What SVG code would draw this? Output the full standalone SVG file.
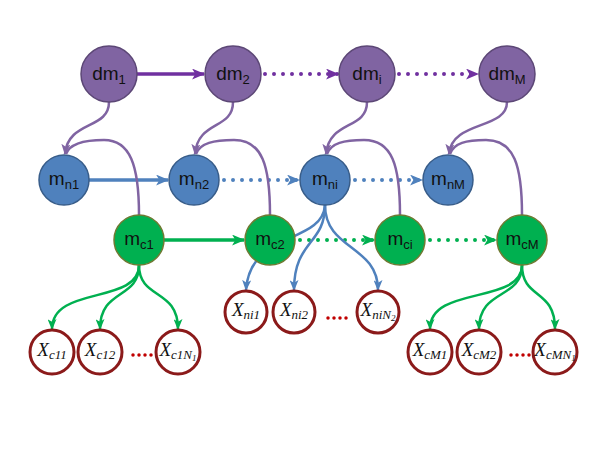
<svg xmlns="http://www.w3.org/2000/svg" width="600" height="450" viewBox="0 0 600 450">
<style>
.dm{fill:#8064A2;stroke:#5C4776;stroke-width:1.5}
.mn{fill:#4F81BD;stroke:#385D8A;stroke-width:1.5}
.mc{fill:#00B050;stroke:#6E7B33;stroke-width:1.5}
.x{fill:#fff;stroke:#8B1A1A;stroke-width:3}
.lbl{font-family:"Liberation Sans",Arial,sans-serif;font-size:19px;fill:#111;text-anchor:middle}
.sub{font-size:13px}
.xl{font-family:"Liberation Serif","Times New Roman",serif;font-style:italic;font-size:19px;fill:#111;text-anchor:middle}
.xs{font-size:13px}
.xss{font-size:9px}
.c{fill:none}
.pS{stroke:#7030A0;stroke-width:3.5}
.pD{stroke:#7030A0;stroke-width:4;stroke-dasharray:0 9;stroke-linecap:round}
.pc{stroke:#8064A2;stroke-width:2.5}
.bS{stroke:#4F81BD;stroke-width:3.5}
.bD{stroke:#4F81BD;stroke-width:4;stroke-dasharray:0 9;stroke-linecap:round}
.bc{stroke:#4F81BD;stroke-width:2.5}
.gS{stroke:#00B050;stroke-width:3.5}
.gD{stroke:#00B050;stroke-width:4;stroke-dasharray:0 9;stroke-linecap:round}
.gc{stroke:#00B050;stroke-width:2.5}
.rd{stroke:#C00000;stroke-width:3.5;stroke-dasharray:0 6;stroke-linecap:round;fill:none}
</style>
<defs>
<marker id="ap" viewBox="0 0 12 10" refX="11" refY="5" markerWidth="13" markerHeight="11" markerUnits="userSpaceOnUse" orient="auto"><path d="M0,0 L12,5 L0,10 L3,5 z" fill="#7030A0"/></marker>
<marker id="apc" viewBox="0 0 12 10" refX="11" refY="5" markerWidth="11" markerHeight="9" markerUnits="userSpaceOnUse" orient="auto"><path d="M0,0 L12,5 L0,10 L3,5 z" fill="#8064A2"/></marker>
<marker id="ab" viewBox="0 0 12 10" refX="11" refY="5" markerWidth="13" markerHeight="11" markerUnits="userSpaceOnUse" orient="auto"><path d="M0,0 L12,5 L0,10 L3,5 z" fill="#4F81BD"/></marker>
<marker id="abc" viewBox="0 0 12 10" refX="11" refY="5" markerWidth="11" markerHeight="9" markerUnits="userSpaceOnUse" orient="auto"><path d="M0,0 L12,5 L0,10 L3,5 z" fill="#4F81BD"/></marker>
<marker id="ag" viewBox="0 0 12 10" refX="11" refY="5" markerWidth="13" markerHeight="11" markerUnits="userSpaceOnUse" orient="auto"><path d="M0,0 L12,5 L0,10 L3,5 z" fill="#00B050"/></marker>
<marker id="agc" viewBox="0 0 12 10" refX="11" refY="5" markerWidth="11" markerHeight="9" markerUnits="userSpaceOnUse" orient="auto"><path d="M0,0 L12,5 L0,10 L3,5 z" fill="#00B050"/></marker>
</defs>
<rect width="600" height="450" fill="#fff"/>
<g id="connectors" class="c">
  <path class="c pS" d="M137,74 L204,74" marker-end="url(#ap)"/>
  <path class="c pD" d="M265,74 L338,74" marker-end="url(#ap)"/>
  <path class="c pD" d="M399,74 L478,74" marker-end="url(#ap)"/>
  <path class="c bS" d="M89,180 L168,180" marker-end="url(#ab)"/>
  <path class="c bD" d="M224,180 L299,180" marker-end="url(#ab)"/>
  <path class="c bD" d="M355,180 L422,180" marker-end="url(#ab)"/>
  <path class="c gS" d="M164,240 L244,240" marker-end="url(#ag)"/>
  <path class="c gD" d="M300,240 L374,240" marker-end="url(#ag)"/>
  <path class="c gD" d="M430,240 L496,240" marker-end="url(#ag)"/>
  <path class="c pc" d="M109,102 C109,130 68,120 65,154" marker-end="url(#apc)"/>
  <path class="c pc" d="M233,102 C233,130 198,120 195,154" marker-end="url(#apc)"/>
  <path class="c pc" d="M367,102 C367,130 329,120 326,154" marker-end="url(#apc)"/>
  <path class="c pc" d="M507,102 C507,130 452,120 449,154" marker-end="url(#apc)"/>
  <path class="c pc" d="M139,215 C139,165 130,140 104,140 C86,140 70,143 66,154"/>
  <path class="c pc" d="M270,215 C270,165 262,140 234,140 C214,140 200,143 196,154"/>
  <path class="c pc" d="M400,215 C400,165 392,140 364,140 C344,140 331,143 327,154"/>
  <path class="c pc" d="M522,215 C522,165 514,140 486,140 C466,140 454,143 450,154"/>
  <path class="c gc" d="M139,265 C139,305 52,285 52,329" marker-end="url(#agc)"/>
  <path class="c gc" d="M139,265 C139,300 100,288 100,329" marker-end="url(#agc)"/>
  <path class="c gc" d="M139,265 C139,300 178,288 178,329" marker-end="url(#agc)"/>
  <path class="c bc" d="M325,205 C322,245 250,230 246,290" marker-end="url(#abc)"/>
  <path class="c bc" d="M325,205 C325,245 294,240 294,290" marker-end="url(#abc)"/>
  <path class="c bc" d="M325,205 C325,250 378,245 378,290" marker-end="url(#abc)"/>
  <path class="c gc" d="M522,265 C522,305 430,285 430,329" marker-end="url(#agc)"/>
  <path class="c gc" d="M522,265 C522,300 479,288 479,329" marker-end="url(#agc)"/>
  <path class="c gc" d="M522,265 C522,300 555,288 555,329" marker-end="url(#agc)"/>
</g>
<g id="dm1"><circle class="dm" cx="109" cy="74" r="28"/><text class="lbl" x="109" y="80">dm<tspan class="sub" dy="4">1</tspan></text></g>
<g id="dm2"><circle class="dm" cx="233" cy="74" r="28"/><text class="lbl" x="233" y="80">dm<tspan class="sub" dy="4">2</tspan></text></g>
<g id="dmi"><circle class="dm" cx="367" cy="74" r="28"/><text class="lbl" x="367" y="80">dm<tspan class="sub" dy="4">i</tspan></text></g>
<g id="dmM"><circle class="dm" cx="507" cy="74" r="28"/><text class="lbl" x="507" y="80">dm<tspan class="sub" dy="4">M</tspan></text></g>
<g id="mn1"><circle class="mn" cx="64" cy="180" r="25"/><text class="lbl" x="64" y="185">m<tspan class="sub" dy="4">n1</tspan></text></g>
<g id="mn2"><circle class="mn" cx="194" cy="180" r="25"/><text class="lbl" x="194" y="185">m<tspan class="sub" dy="4">n2</tspan></text></g>
<g id="mni"><circle class="mn" cx="325" cy="180" r="25"/><text class="lbl" x="325" y="185">m<tspan class="sub" dy="4">ni</tspan></text></g>
<g id="mnM"><circle class="mn" cx="448" cy="180" r="25"/><text class="lbl" x="448" y="185">m<tspan class="sub" dy="4">nM</tspan></text></g>
<g id="mc1"><circle class="mc" cx="139" cy="240" r="25"/><text class="lbl" x="139" y="245">m<tspan class="sub" dy="4">c1</tspan></text></g>
<g id="mc2"><circle class="mc" cx="270" cy="240" r="25"/><text class="lbl" x="270" y="245">m<tspan class="sub" dy="4">c2</tspan></text></g>
<g id="mci"><circle class="mc" cx="400" cy="240" r="25"/><text class="lbl" x="400" y="245">m<tspan class="sub" dy="4">ci</tspan></text></g>
<g id="mcM"><circle class="mc" cx="522" cy="240" r="25"/><text class="lbl" x="522" y="245">m<tspan class="sub" dy="4">cM</tspan></text></g>
<g id="Xc11"><circle class="x" cx="52" cy="352" r="22"/><text class="xl" x="52" y="356">X<tspan class="xs" dy="3">c11</tspan></text></g>
<g id="Xc12"><circle class="x" cx="100" cy="352" r="22"/><text class="xl" x="100" y="356">X<tspan class="xs" dy="3">c12</tspan></text></g>
<g id="Xc1N1"><circle class="x" cx="178" cy="352" r="22"/><text class="xl" x="178" y="356">X<tspan class="xs" dy="3">c1N</tspan><tspan class="xss" dy="2">1</tspan></text></g>
<g id="Xni1"><circle class="x" cx="246" cy="312" r="21"/><text class="xl" x="246" y="316">X<tspan class="xs" dy="3">ni1</tspan></text></g>
<g id="Xni2"><circle class="x" cx="294" cy="312" r="21"/><text class="xl" x="294" y="316">X<tspan class="xs" dy="3">ni2</tspan></text></g>
<g id="XniN2"><circle class="x" cx="378" cy="312" r="21"/><text class="xl" x="378" y="316">X<tspan class="xs" dy="3">niN</tspan><tspan class="xss" dy="2">2</tspan></text></g>
<g id="XcM1"><circle class="x" cx="430" cy="352" r="22"/><text class="xl" x="430" y="356">X<tspan class="xs" dy="3">cM1</tspan></text></g>
<g id="XcM2"><circle class="x" cx="479" cy="352" r="22"/><text class="xl" x="479" y="356">X<tspan class="xs" dy="3">cM2</tspan></text></g>
<g id="XcMN1"><circle class="x" cx="555" cy="352" r="22"/><text class="xl" x="555" y="356">X<tspan class="xs" dy="3">cMN</tspan><tspan class="xss" dy="2">1</tspan></text></g>
<g id="ellipses">
  <path class="rd" d="M133,355 L153,355"/>
  <path class="rd" d="M328,318 L348,318"/>
  <path class="rd" d="M511,355 L531,355"/>
</g>
</svg>
